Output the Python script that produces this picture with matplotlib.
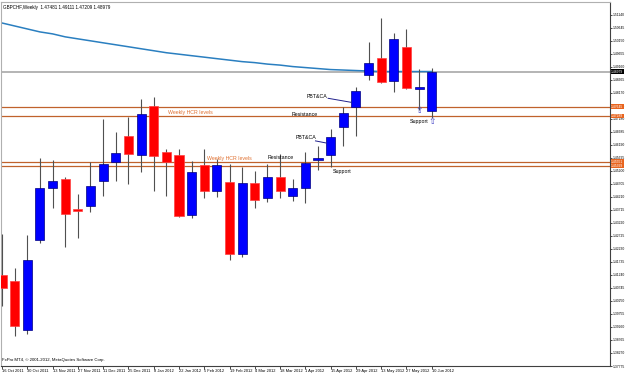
import numpy as np
import matplotlib
matplotlib.use("Agg")
import matplotlib.pyplot as plt
import matplotlib.transforms as mtransforms

plt.rcParams['font.family'] = ['Liberation Sans', 'DejaVu Sans']

# weekly GBPCHF bars, 16 Oct 2011 .. 10 Jun 2012
opens = [1.41250, 1.41024, 1.39139, 1.42570, 1.44530, 1.44907, 1.43701, 1.43852, 1.44832, 1.45548,
         1.46528, 1.45812, 1.47659, 1.45925, 1.45812, 1.43512, 1.45435, 1.44417, 1.44794, 1.42042,
         1.44757, 1.44153, 1.44983, 1.44229, 1.44530, 1.45624, 1.45812, 1.46868, 1.47622, 1.48866,
         1.49507, 1.48602, 1.49922, 1.48300, 1.47481]
highs = [1.42796, 1.41514, 1.42758, 1.45699, 1.45624, 1.44983, 1.44304, 1.45548, 1.47169, 1.46679,
         1.47245, 1.47923, 1.47999, 1.46038, 1.46038, 1.45586, 1.46038, 1.45661, 1.45473, 1.45360,
         1.45209, 1.45473, 1.45850, 1.44907, 1.45925, 1.46151, 1.46792, 1.47622, 1.48376, 1.50110,
         1.51015, 1.50449, 1.50600, 1.49092, 1.49111]
lows = [1.40044, 1.38913, 1.38988, 1.42457, 1.43776, 1.42306, 1.42645, 1.43626, 1.44229, 1.44832,
        1.44681, 1.45171, 1.44417, 1.44229, 1.43437, 1.43399, 1.44153, 1.44191, 1.41816, 1.41929,
        1.43776, 1.44003, 1.44153, 1.44040, 1.43965, 1.45247, 1.45360, 1.46151, 1.46528, 1.48640,
        1.48527, 1.48187, 1.48300, 1.47509, 1.47209]
closes = [1.40760, 1.39290, 1.41816, 1.44530, 1.44832, 1.43550, 1.43663, 1.44606, 1.45473, 1.45888,
          1.45850, 1.47358, 1.45774, 1.45548, 1.43475, 1.45171, 1.44417, 1.45435, 1.42042, 1.44757,
          1.44078, 1.44983, 1.44417, 1.44530, 1.45511, 1.45661, 1.46491, 1.47396, 1.48225, 1.49318,
          1.48564, 1.50223, 1.48338, 1.48376, 1.48979]
ma = [1.50826, 1.50713, 1.50600, 1.50487, 1.50412, 1.50299, 1.50223, 1.50148, 1.50072, 1.49997,
      1.49922, 1.49846, 1.49771, 1.49695, 1.49639, 1.49582, 1.49526, 1.49469, 1.49413, 1.49356,
      1.49318, 1.49262, 1.49224, 1.49168, 1.49130, 1.49092, 1.49054, 1.49036, 1.49017, 1.48998,
      1.48979, 1.48979, 1.48979, 1.48979, 1.48979]

date_labels = ["16 Oct 2011", "30 Oct 2011", "13 Nov 2011", "27 Nov 2011", "11 Dec 2011",
               "25 Dec 2011", "8 Jan 2012", "22 Jan 2012", "5 Feb 2012", "19 Feb 2012",
               "4 Mar 2012", "18 Mar 2012", "1 Apr 2012", "15 Apr 2012", "29 Apr 2012",
               "13 May 2012", "27 May 2012", "10 Jun 2012"]
price_ticks = [1.37775, 1.38270, 1.38765, 1.39260, 1.39755, 1.40250, 1.40745, 1.41240, 1.41735,
               1.42230, 1.42725, 1.43220, 1.43715, 1.44210, 1.44705, 1.45200, 1.45695, 1.46190,
               1.46685, 1.47180, 1.47675, 1.48170, 1.48665, 1.49160, 1.49655, 1.50150, 1.50645,
               1.51140]

current = 1.48979
hcr_upper = [1.47645, 1.47289]
hcr_lower = [1.45551, 1.45399]

fig = plt.figure(figsize=(6.25, 3.74), dpi=100)
ax = fig.add_axes([1 / 625, 8 / 374, 609 / 625, 364 / 374])

idx = np.arange(len(opens))
o = np.array(opens); c = np.array(closes)
h = np.array(highs); l = np.array(lows)
up = c >= o
bottom = np.minimum(o, c)
height = np.maximum(np.abs(c - o), 0.0007)

# horizontal levels and MA behind candles
ax.axhline(current, color="#a8a8a8", lw=1.2, zorder=1)
for lv in hcr_upper + hcr_lower:
    ax.axhline(lv, color="#c0622c", lw=0.9, zorder=1)
ax.plot(idx, ma, color="#2a7fc0", lw=1.1, zorder=2)

ax.vlines(idx, l, h, color="#505050", lw=0.8, zorder=3)
ax.bar(idx[up], height[up], bottom=bottom[up], width=0.72, color="#0000ff",
       edgecolor="#000080", lw=0.5, zorder=4)
ax.bar(idx[~up], height[~up], bottom=bottom[~up], width=0.72, color="#ff0000",
       edgecolor="#ff4040", lw=0.5, zorder=4)

fs = 3.8
ax.text(13.1, 1.47433, "Weekly HCR levels", color="#e07030", fontsize=fs, va="center")
ax.text(16.2, 1.45661, "Weekly HCR levels", color="#e07030", fontsize=fs, va="center")
ax.text(22.9, 1.47358, "Resistance", color="black", fontsize=fs, va="center")
ax.text(21.0, 1.45718, "Resistance", color="black", fontsize=fs, va="center")
ax.text(24.1, 1.48036, "PBT&CA", color="black", fontsize=fs, va="center")
ax.plot([25.8, 27.6], [1.47961, 1.47810], color="#20208c", lw=0.7, zorder=5)
ax.text(23.2, 1.46453, "PBT&CA", color="black", fontsize=fs, va="center")
ax.plot([24.8, 25.6], [1.46340, 1.46265], color="#20208c", lw=0.7, zorder=5)
ax.text(26.2, 1.45171, "Support", color="black", fontsize=fs, va="center")
ax.text(32.3, 1.47094, "Support", color="black", fontsize=fs, va="center")
ax.text(33.0, 1.47509, "\u21e7", color="#4848c8", fontsize=6.5, ha="center", va="center",
        family="DejaVu Sans", zorder=6)
ax.text(34.0, 1.47094, "\u21e7", color="#4848c8", fontsize=6.5, ha="center", va="center",
        family="DejaVu Sans", zorder=6)

ax.text(0.003, 0.992, "GBPCHF,Weekly  1.47481 1.49111 1.47209 1.48979", transform=ax.transAxes,
        fontsize=3.3, va="top", ha="left")
ax.text(0.002, 0.012, "FxPro MT4, \u00a9 2001-2012, MetaQuotes Software Corp.", transform=ax.transAxes,
        fontsize=3.1, va="bottom", ha="left")

ax.set_xlim(-0.08, 48.1)
ax.set_ylim(1.37775, 1.51625)

ax.yaxis.tick_right()
ax.set_yticks(price_ticks)
ax.set_yticklabels([f"{v:.5f}" for v in price_ticks])
ax.tick_params(axis="y", labelsize=2.4, length=1.2, width=0.5, pad=0.4)
ax.set_xticks(np.arange(0, 35, 2))
ax.set_xticklabels(date_labels, ha="left")
ax.tick_params(axis="x", labelsize=2.9, length=2, width=0.5, pad=0.2)

# price tags on the right scale
trans = mtransforms.blended_transform_factory(ax.transAxes, ax.transData)
ax.text(1.002, current, f"{current:.5f}", transform=trans, fontsize=2.4, color="white",
        va="center", ha="left", bbox=dict(boxstyle="square,pad=0.1", fc="black", ec="none"))
for lv in hcr_upper + hcr_lower:
    ax.text(1.002, lv, f"{lv:.5f}", transform=trans, fontsize=2.4, color="white",
            va="center", ha="left", bbox=dict(boxstyle="square,pad=0.1", fc="#e8641e", ec="none"))

for side in ["top", "left"]:
    ax.spines[side].set_color("#b0b0b0")
for side in ["bottom", "right"]:
    ax.spines[side].set_color("#404040")
for sp in ax.spines.values():
    sp.set_linewidth(0.8)

fig.savefig("out.png", dpi=100)
